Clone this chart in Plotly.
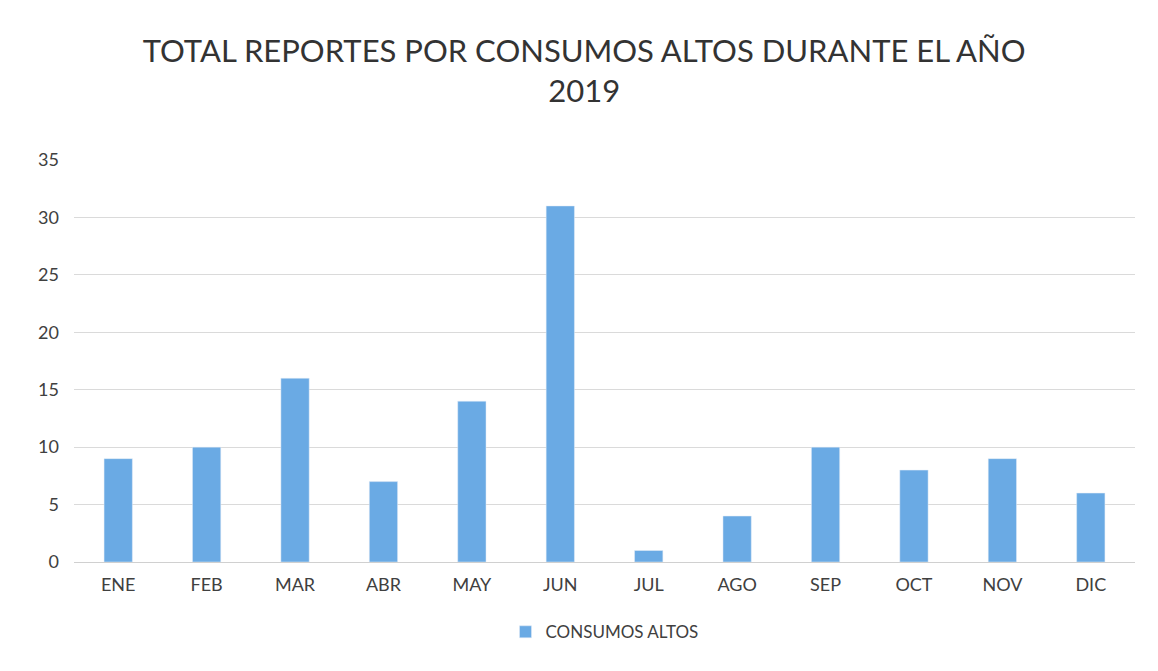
import plotly.graph_objects as go

meses = ["ENE", "FEB", "MAR", "ABR", "MAY", "JUN", "JUL", "AGO", "SEP", "OCT", "NOV", "DIC"]
consumos_altos = [9, 10, 16, 7, 14, 31, 1, 4, 10, 8, 9, 6]

fig = go.Figure()
fig.add_trace(go.Bar(
    x=meses, y=consumos_altos, name="CONSUMOS ALTOS",
    marker_color="#6AAAE4",
))

fig.update_layout(
    width=1150, height=663,
    title=dict(
        text="TOTAL REPORTES POR CONSUMOS ALTOS DURANTE EL AÑO<br>2019",
        x=0.501, xanchor="center", y=0.919, yanchor="top",
        font=dict(family="Lato, Open Sans, sans-serif", size=31, color="#333333"),
    ),
    font=dict(family="Lato, Open Sans, sans-serif", size=18, color="#404040"),
    plot_bgcolor="white", paper_bgcolor="white",
    bargap=0.68,
    margin=dict(l=66, r=23, t=152, b=109, autoexpand=False),
    showlegend=True,
    legend=dict(orientation="h", x=0.5, xanchor="center", y=-0.13, yanchor="top",
                font=dict(size=17)),
)
fig.update_yaxes(range=[0, 35], dtick=5, showgrid=True, gridcolor="#DADADA",
                 zeroline=False, showline=False, ticks="", ticklabelstandoff=14)
fig.update_xaxes(showline=True, linecolor="#D0D0D0", ticks="", tickfont=dict(size=18),
                 ticklabelstandoff=6)

fig.write_html("out.html")
